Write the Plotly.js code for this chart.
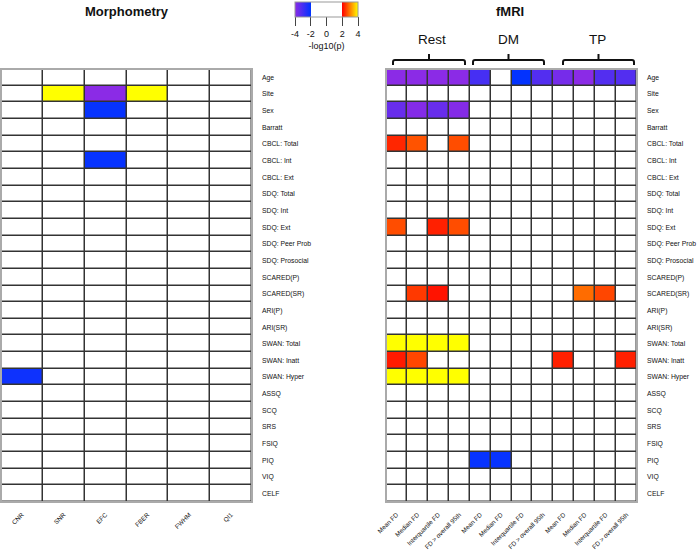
<!DOCTYPE html>
<html>
<head>
<meta charset="utf-8">
<script src="https://cdn.plot.ly/plotly-3.0.1.min.js"></script>
<style>
  html, body { margin: 0; padding: 0; background: #ffffff; }
  #chart { width: 700px; height: 553px; }
</style>
</head>
<body>
<div id="chart"></div>
<script>
// ---------------- DATA ----------------
const rowLabels = ['Age','Site','Sex','Barratt','CBCL: Total','CBCL: Int','CBCL: Ext','SDQ: Total','SDQ: Int','SDQ: Ext',
  'SDQ: Peer Prob','SDQ: Prosocial','SCARED(P)','SCARED(SR)','ARI(P)','ARI(SR)','SWAN: Total','SWAN: Inatt','SWAN: Hyper',
  'ASSQ','SCQ','SRS','FSIQ','PIQ','VIQ','CELF'];

const morphCols = ['CNR','SNR','EFC','FBER','FWHM','QI1'];
const fmriCols = ['Mean FD','Median FD','Interquartile FD','FD > overall 95th',
                  'Mean FD','Median FD','Interquartile FD','FD > overall 95th',
                  'Mean FD','Median FD','Interquartile FD','FD > overall 95th'];
const groupLabels = ['Rest','DM','TP'];

// -log10(p), signed; rows in rowLabels order
//               CNR   SNR   EFC   FBER  FWHM  QI1
const morphZ = [
  [0, 0, 0, 0, 0, 0],          // Age
  [0, 4.5, -4.5, 4.5, 0, 0],   // Site
  [0, 0, -2.1, 0, 0, 0],       // Sex
  [0, 0, 0, 0, 0, 0],          // Barratt
  [0, 0, 0, 0, 0, 0],          // CBCL: Total
  [0, 0, -2.1, 0, 0, 0],       // CBCL: Int
  [0, 0, 0, 0, 0, 0],          // CBCL: Ext
  [0, 0, 0, 0, 0, 0],          // SDQ: Total
  [0, 0, 0, 0, 0, 0],          // SDQ: Int
  [0, 0, 0, 0, 0, 0],          // SDQ: Ext
  [0, 0, 0, 0, 0, 0],          // SDQ: Peer Prob
  [0, 0, 0, 0, 0, 0],          // SDQ: Prosocial
  [0, 0, 0, 0, 0, 0],          // SCARED(P)
  [0, 0, 0, 0, 0, 0],          // SCARED(SR)
  [0, 0, 0, 0, 0, 0],          // ARI(P)
  [0, 0, 0, 0, 0, 0],          // ARI(SR)
  [0, 0, 0, 0, 0, 0],          // SWAN: Total
  [0, 0, 0, 0, 0, 0],          // SWAN: Inatt
  [-2.2, 0, 0, 0, 0, 0],       // SWAN: Hyper
  [0, 0, 0, 0, 0, 0],          // ASSQ
  [0, 0, 0, 0, 0, 0],          // SCQ
  [0, 0, 0, 0, 0, 0],          // SRS
  [0, 0, 0, 0, 0, 0],          // FSIQ
  [0, 0, 0, 0, 0, 0],          // PIQ
  [0, 0, 0, 0, 0, 0],          // VIQ
  [0, 0, 0, 0, 0, 0]           // CELF
];

//             Mean  Median IQR   FD95
const restZ = [
  [-4.2, -4.2, -4.2, -4.2],    // Age
  [0, 0, 0, 0],                // Site
  [-3.5, -3.9, -3.5, -3.9],    // Sex
  [0, 0, 0, 0],                // Barratt
  [2.3, 2.65, 0, 2.6],         // CBCL: Total
  [0, 0, 0, 0],                // CBCL: Int
  [0, 0, 0, 0],                // CBCL: Ext
  [0, 0, 0, 0],                // SDQ: Total
  [0, 0, 0, 0],                // SDQ: Int
  [2.6, 0, 2.25, 2.6],         // SDQ: Ext
  [0, 0, 0, 0],                // SDQ: Peer Prob
  [0, 0, 0, 0],                // SDQ: Prosocial
  [0, 0, 0, 0],                // SCARED(P)
  [0, 2.45, 2.15, 0],          // SCARED(SR)
  [0, 0, 0, 0],                // ARI(P)
  [0, 0, 0, 0],                // ARI(SR)
  [4.5, 4.5, 4.5, 4.5],        // SWAN: Total
  [2.2, 2.55, 0, 0],           // SWAN: Inatt
  [4.5, 4.5, 4.5, 4.5],        // SWAN: Hyper
  [0, 0, 0, 0],                // ASSQ
  [0, 0, 0, 0],                // SCQ
  [0, 0, 0, 0],                // SRS
  [0, 0, 0, 0],                // FSIQ
  [0, 0, 0, 0],                // PIQ
  [0, 0, 0, 0],                // VIQ
  [0, 0, 0, 0]                 // CELF
];

const dmZ = [
  [-3.0, 0, -2.05, -3.2],      // Age
  [0, 0, 0, 0], [0, 0, 0, 0], [0, 0, 0, 0], [0, 0, 0, 0], [0, 0, 0, 0],
  [0, 0, 0, 0], [0, 0, 0, 0], [0, 0, 0, 0], [0, 0, 0, 0], [0, 0, 0, 0],
  [0, 0, 0, 0], [0, 0, 0, 0], [0, 0, 0, 0], [0, 0, 0, 0], [0, 0, 0, 0],
  [0, 0, 0, 0], [0, 0, 0, 0], [0, 0, 0, 0], [0, 0, 0, 0], [0, 0, 0, 0],
  [0, 0, 0, 0], [0, 0, 0, 0],
  [-2.1, -2.1, 0, 0],          // PIQ
  [0, 0, 0, 0],                // VIQ
  [0, 0, 0, 0]                 // CELF
];

const tpZ = [
  [-3.7, -4.1, -3.2, -3.2],    // Age
  [0, 0, 0, 0], [0, 0, 0, 0], [0, 0, 0, 0], [0, 0, 0, 0], [0, 0, 0, 0],
  [0, 0, 0, 0], [0, 0, 0, 0], [0, 0, 0, 0], [0, 0, 0, 0], [0, 0, 0, 0],
  [0, 0, 0, 0], [0, 0, 0, 0],
  [0, 2.85, 2.55, 0],          // SCARED(SR)
  [0, 0, 0, 0], [0, 0, 0, 0], [0, 0, 0, 0],
  [2.25, 0, 0, 2.25],          // SWAN: Inatt
  [0, 0, 0, 0], [0, 0, 0, 0], [0, 0, 0, 0], [0, 0, 0, 0], [0, 0, 0, 0],
  [0, 0, 0, 0], [0, 0, 0, 0], [0, 0, 0, 0]
];

const cbTicks = [-4, -2, 0, 2, 4];

// ---------------- BUILD ----------------
const W = 700, H = 553;
const px = x => x / W;
const py = y => 1 - y / H;
const FONT = 'Liberation Sans, Arial, sans-serif';

const fmriZ = rowLabels.map((_, i) => restZ[i].concat(dmZ[i], tpZ[i]));
const rowIdx = rowLabels.map((_, i) => i);
const morphIdx = morphCols.map((_, i) => i);
const fmriIdx = fmriCols.map((_, i) => i);

const cscale = [
  [0.0, '#8B2BE6'],
  [0.25, '#0033FF'],
  [0.25, '#FFFFFF'],
  [0.75, '#FFFFFF'],
  [0.75, '#FF0000'],
  [1.0, '#FFFF00']
];

const common = {
  type: 'heatmap', zmin: -4, zmax: 4, colorscale: cscale,
  xgap: 1.5, ygap: 1.5, hoverinfo: 'x+y+z'
};

const traces = [
  Object.assign({}, common, {
    z: morphZ, x: morphIdx, y: rowIdx, xaxis: 'x', yaxis: 'y', showscale: false
  }),
  Object.assign({}, common, {
    z: fmriZ, x: fmriIdx, y: rowIdx, xaxis: 'x2', yaxis: 'y2', showscale: true,
    colorbar: {
      orientation: 'h',
      x: px((295 + 358) / 2), xanchor: 'center',
      y: py(2), yanchor: 'top',
      len: 63 / W, lenmode: 'fraction',
      thickness: 15, thicknessmode: 'pixels',
      xpad: 0, ypad: 0,
      outlinecolor: '#999999', outlinewidth: 1,
      tickmode: 'array', tickvals: cbTicks, ticktext: cbTicks.map(String),
      ticks: 'outside', ticklen: 9, tickcolor: '#444', tickwidth: 1,
      tickfont: { family: FONT, size: 9, color: '#111' },
      title: { text: '-log10(p)', side: 'bottom',
               font: { family: FONT, size: 9, color: '#111' } }
    }
  })
];

const tickFontX = { family: FONT, size: 6.3, color: '#111' };
const tickFontY = { family: FONT, size: 6.8, color: '#111' };

function xax(domain, labels, anchor) {
  return {
    domain: domain, anchor: anchor,
    range: [-0.5, labels.length - 0.5],
    tickmode: 'array', tickvals: labels.map((_, i) => i), ticktext: labels,
    tickangle: -45, tickfont: tickFontX, ticks: '', ticklabelstandoff: 7,
    showgrid: false, zeroline: false, showline: false,
    fixedrange: true
  };
}
function yax(domain, anchor) {
  return {
    domain: domain, anchor: anchor, side: 'right',
    range: [rowLabels.length - 0.5, -0.5],
    tickmode: 'array', tickvals: rowIdx, ticktext: rowLabels,
    tickfont: tickFontY, ticks: '', ticklabelstandoff: 9,
    showgrid: false, zeroline: false, showline: false,
    fixedrange: true
  };
}

const yDom = [py(502), py(69)];

// brackets
function bracket(x1, x2, xm) {
  const yH = 60, yEnd = 65, yTop = 54;
  const r = 2;
  const d = `M ${px(x1)},${py(yEnd)} L ${px(x1)},${py(yH + r)} Q ${px(x1)},${py(yH)} ${px(x1 + r)},${py(yH)} ` +
            `L ${px(x2 - r)},${py(yH)} Q ${px(x2)},${py(yH)} ${px(x2)},${py(yH + r)} L ${px(x2)},${py(yEnd)}`;
  return [
    { type: 'path', xref: 'paper', yref: 'paper', path: d, line: { color: '#111', width: 2 } },
    { type: 'line', xref: 'paper', yref: 'paper', x0: px(xm), x1: px(xm), y0: py(yH), y1: py(yTop),
      line: { color: '#111', width: 2 } }
  ];
}
// light outer frame of each grid
const frames = [
  { type: 'rect', xref: 'x domain', yref: 'y domain', x0: 0, x1: 1, y0: 0, y1: 1,
    line: { color: '#aaaaaa', width: 2 }, layer: 'above' },
  { type: 'rect', xref: 'x2 domain', yref: 'y2 domain', x0: 0, x1: 1, y0: 0, y1: 1,
    line: { color: '#aaaaaa', width: 2 }, layer: 'above' }
];
const shapes = [].concat(
  frames,
  bracket(393, 465, 429),
  bracket(473, 544, 508.5),
  bracket(563, 634, 598.5)
);

const groupX = [432, 508, 597];
const annotations = [
  { text: '<b>Morphometry</b>', x: px(127), y: py(11), xref: 'paper', yref: 'paper',
    xanchor: 'center', yanchor: 'middle',
    showarrow: false, font: { family: FONT, size: 13, color: '#111' } },
  { text: '<b>fMRI</b>', x: px(510), y: py(11), xref: 'paper', yref: 'paper',
    xanchor: 'center', yanchor: 'middle',
    showarrow: false, font: { family: FONT, size: 13, color: '#111' } }
].concat(groupLabels.map((g, i) => ({
  text: g, x: px(groupX[i]), y: py(39), xref: 'paper', yref: 'paper',
  xanchor: 'center', yanchor: 'middle',
  showarrow: false, font: { family: FONT, size: 13.5, color: '#111' }
})));

const layout = {
  width: W, height: H,
  margin: { l: 0, r: 0, t: 0, b: 0 },
  paper_bgcolor: '#ffffff',
  plot_bgcolor: '#333333',
  showlegend: false,
  xaxis: xax([px(1), px(252)], morphCols, 'y'),
  yaxis: yax(yDom, 'x'),
  xaxis2: xax([px(386), px(637)], fmriCols, 'y2'),
  yaxis2: yax(yDom, 'x2'),
  shapes: shapes,
  annotations: annotations
};

Plotly.newPlot('chart', traces, layout, { displayModeBar: false, staticPlot: true });
</script>
</body>
</html>
